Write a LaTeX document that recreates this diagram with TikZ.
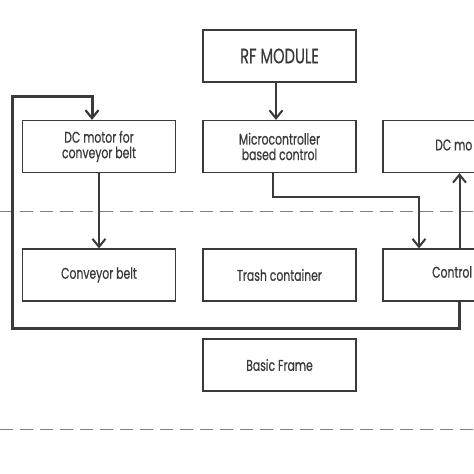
\documentclass[tikz,border=0pt]{standalone}
\usepackage{fontspec}
\setmainfont{Poppins}[FakeStretch=0.7,FakeBold=0.5]
\usetikzlibrary{arrows.meta,calc}
\definecolor{ink}{HTML}{3A3A3A}
\definecolor{dashc}{HTML}{808080}
\tikzset{
  box/.style={draw=ink, line width=1.2pt, minimum width=153pt, minimum height=52pt, inner sep=0pt, text=ink, font=\fontsize{15.5}{15.5}\selectfont, align=center},
  lbl/.style={anchor=west, text=ink, font=\fontsize{15.5}{15.5}\selectfont, inner sep=0pt},
  conn/.style={draw=ink, line width=2pt, -{Straight Barb[length=8pt,width=13pt,line width=2pt]}},
  thickconn/.style={draw=ink, line width=3pt, -{Straight Barb[length=8pt,width=13pt,line width=2.2pt]}},
  sep/.style={draw=dashc, line width=0.9pt, dash pattern=on 13pt off 7pt}
}
\begin{document}
\begin{tikzpicture}[x=1pt,y=-1pt]
\useasboundingbox (0,0) rectangle (474,474);
\clip (0,0) rectangle (474,474);
\fill[white] (0,0) rectangle (474,474);
% separators
\coordinate (s1a) at (0,211); \coordinate (s1b) at (474,211);
\coordinate (s2a) at (0,429); \coordinate (s2b) at (474,429);
\draw[sep] (s1a) -- (s1b);
\draw[sep] (s2a) -- (s2b);
% boxes
\node[box, font=\fontsize{21}{21}\selectfont] (rf) at (279.5,56) {RF MODULE};
\node[box] (dcm1) at (99,146.5) {DC motor for\\conveyor belt};
\node[box] (micro) at (279.5,146.5) {Microcontroller\\based control};
\node[box] (dcm2) at (459.5,146.5) {};
\node[lbl] (dcm2t) at (435,145) {DC mo};
\node[box] (belt) at (99,275) {Conveyor belt};
\node[box] (trash) at (279.5,275) {Trash container};
\node[box] (ctrl) at (459.5,275) {};
\node[lbl] (ctrlt) at (432,272) {Control};
\node[box] (frame) at (279.5,365) {Basic Frame};
% connectors
\draw[conn] ([xshift=-3.5pt]rf.south) -- ([xshift=-3.5pt]micro.north);
\draw[conn] (dcm1.south) -- (belt.north);
\draw[conn] ([xshift=-6.5pt]micro.south) -- ++(0,24) -| ([xshift=-40.5pt]ctrl.north);
\draw[conn] (ctrl.north) -- (dcm2.south);
\coordinate (fbl) at (12,328);
\coordinate (fbt) at (12,96);
\draw[thickconn] (ctrl.south) |- (fbl) -- (fbt) -| ([xshift=-7pt]dcm1.north);
\end{tikzpicture}
\end{document}
